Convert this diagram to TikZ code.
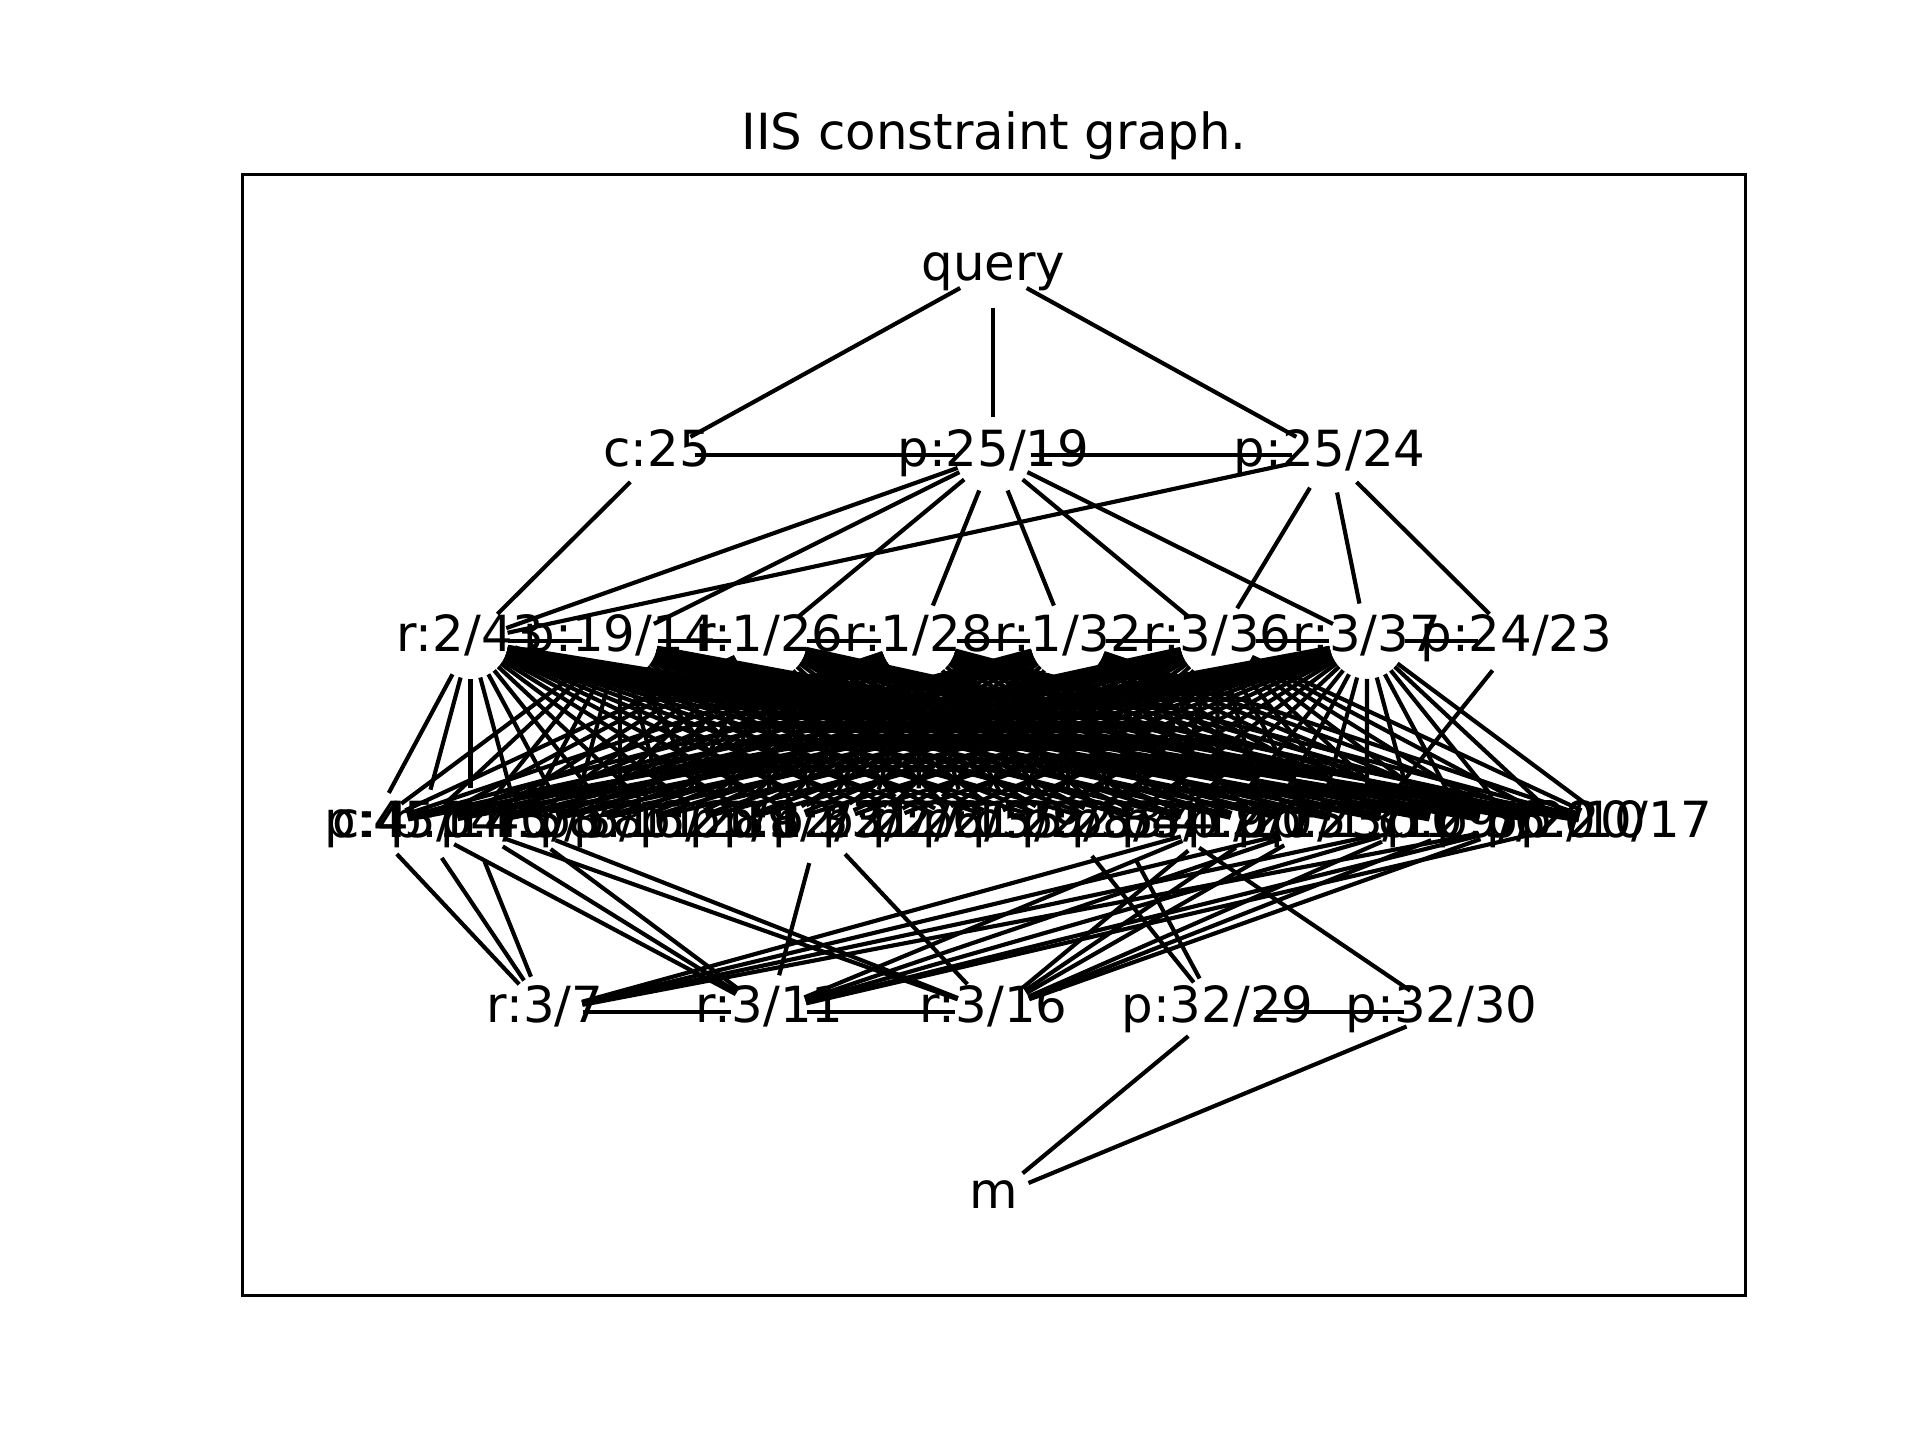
\documentclass[tikz,border=0pt]{standalone}
\usepackage{fontspec}
\setmainfont{DejaVu Sans}
\tikzset{
  vtx/.style={circle, minimum size=17.9pt, inner sep=0pt,
    font=\fontsize{12}{14.4}\selectfont, text height=0.76em, text depth=0.24em},
  edge/.style={line width=1pt, black}
}
\newcommand{\lbl}[1]{\makebox[0pt]{#1}}

\begin{document}
\begin{tikzpicture}[x=0.29807pt, y=-0.29807pt]
\useasboundingbox (0,0) rectangle (1552,1164);
\node[font=\fontsize{12}{14.4}\selectfont, anchor=base] (title) at (803.5,121) {IIS constraint graph.};
\draw[line width=0.8pt] (196,141) rectangle (1411,1047);

% layers
\node[vtx] (top) at (803,218) {\lbl{query}};
\foreach [count=\i] \t in {c:25, p:25/19, p:25/24}
  \node[vtx] (a\i) at ({259.5+1087/4*\i},368) {\lbl{\t}};
\foreach [count=\i] \t in {r:2/43, p:19/14, r:1/26, r:1/28, r:1/32, r:3/36, r:3/37, p:24/23}
  \node[vtx] (b\i) at ({259.5+1087/9*\i},518) {\lbl{\t}};
\foreach [count=\i] \t in {c:4, p:45/14, p:14/5, p:40/8, r:5/38, p:6/11, p:16/28, p:21/9, p:18/3,
    p:12/31, p:22/27, p:27/21, p:26/35, p:15/22, p:29/33, p:28/34, p:34/12, p:41/20, p:9/15,
    p:7/13, p:23/10, c:1, p:29/6, p:5/20, p:2/10, p:20/17}
  \node[vtx] (c\i) at ({259.5+1087/27*\i},668) {\lbl{\t}};
\foreach [count=\i] \t in {r:3/7, r:3/11, r:3/16, p:32/29, p:32/30}
  \node[vtx] (d\i) at ({259.5+1087/6*\i},818) {\lbl{\t}};
\node[vtx] (m) at (803,968) {\lbl{m}};

% edges
\foreach \j in {1,2,3} \draw[edge] (top) -- (a\j);
\draw[edge] (a1) -- (a2) (a2) -- (a3);
\draw[edge] (a1) -- (b1);
\foreach \j in {1,...,7} \draw[edge] (a2) -- (b\j);
\foreach \j in {1,6,7,8} \draw[edge] (a3) -- (b\j);
\foreach \j [count=\k from 2] in {1,...,7} \draw[edge] (b\j) -- (b\k);
\foreach \j in {1,...,7}
  \foreach \k in {1,...,26} \draw[edge] (b\j) -- (c\k);
\draw[edge] (b8) -- (c21);
\foreach \k in {1,2,3,18,20,22,24} \draw[edge] (c\k) -- (d1);
\foreach \k in {2,3,4,10,18,20,22,24,25} \draw[edge] (c\k) -- (d2);
\foreach \k in {3,4,10,18,19,20,22,23,24} \draw[edge] (c\k) -- (d3);
\foreach \k in {15,16} \draw[edge] (c\k) -- (d4);
\draw[edge] (c17) -- (d5);
\draw[edge] (d1) -- (d2) (d2) -- (d3) (d4) -- (d5);
\draw[edge] (d4) -- (m) (d5) -- (m);
\end{tikzpicture}
\end{document}
